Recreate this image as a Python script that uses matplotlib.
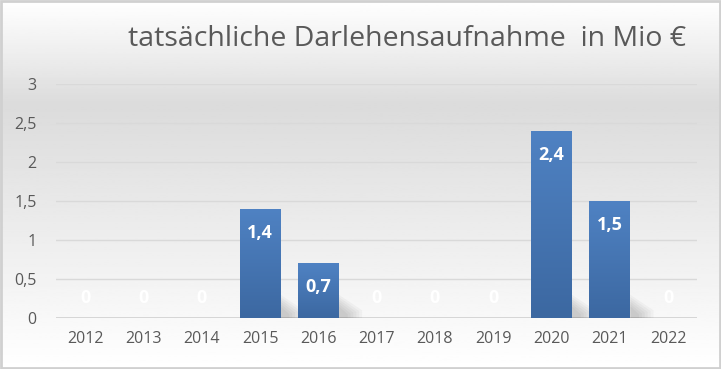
import numpy as np
import matplotlib.pyplot as plt
from matplotlib.colors import LinearSegmentedColormap

years = ["2012", "2013", "2014", "2015", "2016", "2017", "2018", "2019", "2020", "2021", "2022"]
values = [0, 0, 0, 1.4, 0.7, 0, 0, 0, 2.4, 1.5, 0]
y_ticks = [0, 0.5, 1, 1.5, 2, 2.5, 3]
title = "tatsächliche Darlehensaufnahme  in Mio €"

def de(v):
    # German decimal comma
    return ("%g" % v).replace(".", ",")

plt.rcParams['font.family'] = ['Open Sans', 'DejaVu Sans']

fig = plt.figure(figsize=(7.21, 3.69), dpi=100)

# background gradient over whole figure
bg = fig.add_axes([0, 0, 1, 1], zorder=-10)
grad = np.interp(np.linspace(0, 1, 200), [0, 0.15, 0.72, 0.85, 1.0], [1.0, 0.97, 0.86, 0.93, 1.0])
bg.imshow(grad[:, None], cmap="gray", vmin=0, vmax=1, aspect="auto", extent=[0, 1, 0, 1])
bg.set_xlim(0, 1)
bg.set_ylim(1, 0)
bg.axis("off")
bg.add_patch(plt.Rectangle((0.002, 0.003), 0.996, 0.994, fill=False, ec="#d0d0d0", lw=2))

ax = fig.add_axes([0.078, 0.138, 0.889, 0.634])
ax.patch.set_alpha(0)
x = np.arange(len(years))
bars = ax.bar(x, values, width=0.7, color="#4a7ebf", zorder=3)

bar_cmap = LinearSegmentedColormap.from_list("b", ["#3c68a1", "#4f82c3"])
for b in bars:
    h = b.get_height()
    if h <= 0:
        continue
    xl = b.get_x()
    w = b.get_width()
    im = ax.imshow(np.linspace(0, 1, 100)[:, None], cmap=bar_cmap, aspect="auto",
                   extent=[xl, xl + w, 0, h], origin="lower", zorder=3.5)
    im.set_clip_path(b)
    # soft shadow at the base
    for k in range(6):
        ax.add_patch(plt.Polygon([(xl + w, 0), (xl + w, 0.3 - k * 0.03),
                                  (xl + w + 0.4 - k * 0.05, 0.1 - k * 0.01), (xl + w + 0.4 - k * 0.05, 0)],
                                 closed=True, fc="#000000", alpha=0.03, ec="none", zorder=2))

for xi, v in zip(x, values):
    off = -24 if v > 0 else 20
    ax.annotate(de(v), (xi, v), xytext=(0, off), textcoords="offset pixels",
                ha="center", va="center", color="white", fontsize=13, fontweight="bold", zorder=5)

ax.set_xlim(-0.5, len(years) - 0.5)
ax.set_ylim(0, 3)
ax.set_yticks(y_ticks)
ax.set_yticklabels([de(t) for t in y_ticks])
ax.set_xticks(x)
ax.set_xticklabels(years)
ax.tick_params(length=0, colors="#595959", labelsize=11.5)
ax.tick_params(axis="y", pad=14)
ax.tick_params(axis="x", pad=9)
ax.grid(axis="y", color="#d9d9d9", lw=1, zorder=0)
ax.axhline(0, color="#d0d0d0", lw=1.2, zorder=1)
for s in ax.spines.values():
    s.set_visible(False)

fig.text(0.565, 0.895, title, ha="center", va="center", fontsize=20.5, color="#595959")

fig.savefig("out.png", dpi=100)
